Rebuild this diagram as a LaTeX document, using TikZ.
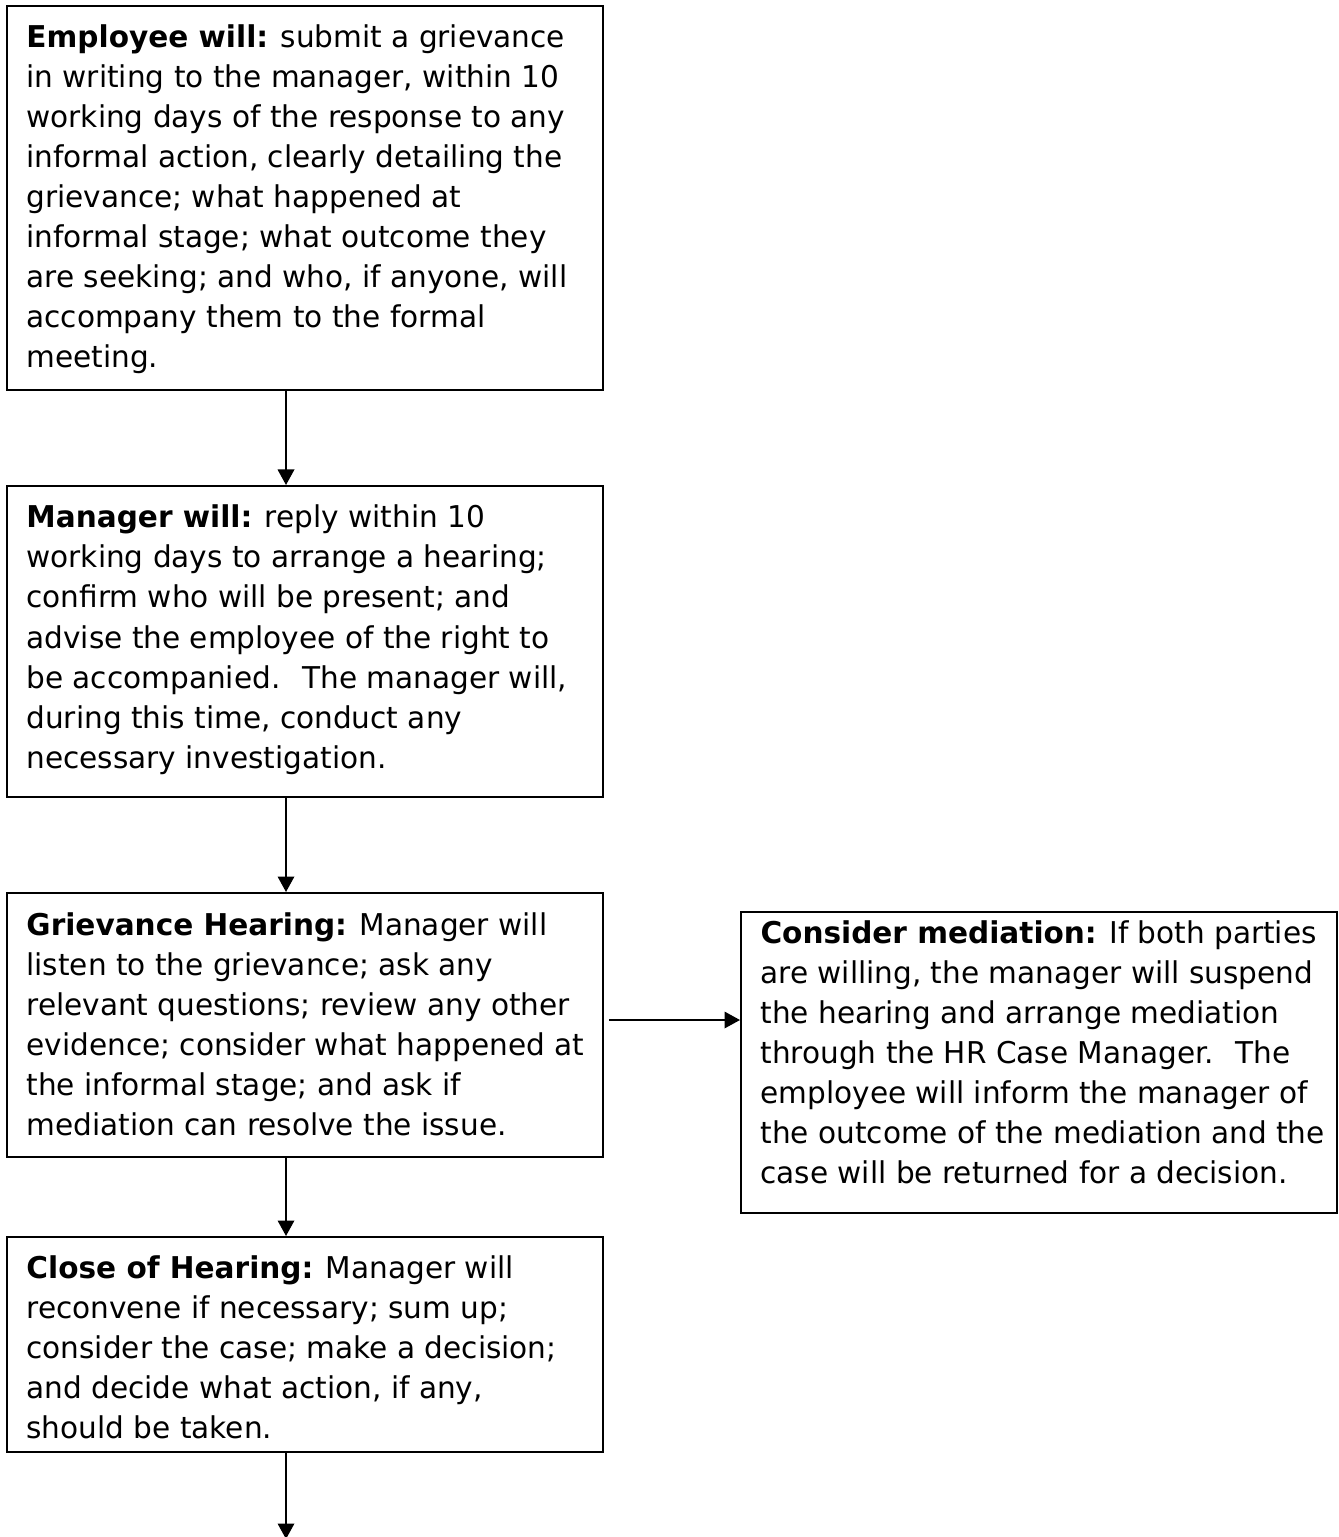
\documentclass[tikz,border=0pt]{standalone}
\usepackage{fontspec}
\setmainfont[FakeStretch=0.985]{DejaVu Sans}
\usetikzlibrary{arrows.meta,calc}

% text block for each step: first baseline sits at the node's base
\newcommand\steptext[1]{\parbox[t]{236pt}{\fontsize{12pt}{16pt}\selectfont\raggedright #1}}

\begin{document}
\begin{tikzpicture}[x=0.4pt,y=-0.4pt,
  stepbox/.style={draw=black, line width=0.8pt, anchor=north west, inner sep=0pt,
    minimum width=238.4pt},
  steplabel/.style={anchor=base west, inner sep=0pt},
  flow/.style={draw=black, line width=0.75pt,
    -{Triangle[width=6.6pt,length=6.2pt]}}
]
\useasboundingbox (0,0) rectangle (1338,1537);
\fill[white] (0,0) rectangle (1338,1537);

% boxes
\node[stepbox, minimum height=153.6pt] (b1) at (6,5) {};
\node[stepbox, minimum height=124.4pt] (b2) at (6,485) {};
\node[stepbox, minimum height=105.6pt] (b3) at (6,892) {};
\node[stepbox, minimum height=86pt]    (b4) at (6,1236) {};
\node[stepbox, minimum height=120.4pt] (b5) at (740,911) {};

% texts
\node[steplabel] (t1) at ($(b1.north west)+(20,43)$) {\steptext{%
\textbf{Employee will:} submit a grievance\\
in writing to the manager, within 10\\
working days of the response to any\\
informal action, clearly detailing the\\
grievance; what happened at\\
informal stage; what outcome they\\
are seeking; and who, if anyone, will\\
accompany them to the formal\\
meeting.}};

\node[steplabel] (t2) at ($(b2.north west)+(20,43)$) {\steptext{%
\textbf{Manager will:} reply within 10\\
working days to arrange a hearing;\\
confirm who will be present; and\\
advise the employee of the right to\\
be accompanied.~ The manager will,\\
during this time, conduct any\\
necessary investigation.}};

\node[steplabel] (t3) at ($(b3.north west)+(20,43)$) {\steptext{%
\textbf{Grievance Hearing:} Manager will\\
listen to the grievance; ask any\\
relevant questions; review any other\\
evidence; consider what happened at\\
the informal stage; and ask if\\
mediation can resolve the issue.}};

\node[steplabel] (t4) at ($(b4.north west)+(20,42)$) {\steptext{%
\textbf{Close of Hearing:} Manager will\\
reconvene if necessary; sum up;\\
consider the case; make a decision;\\
and decide what action, if any,\\
should be taken.}};

\node[steplabel] (t5) at ($(b5.north west)+(20,32)$) {\steptext{%
\textbf{Consider mediation:} If both parties\\
are willing, the manager will suspend\\
the hearing and arrange mediation\\
through the HR Case Manager.~ The\\
employee will inform the manager of\\
the outcome of the mediation and the\\
case will be returned for a decision.}};

% connectors
\draw[flow] ($(b1.south west)+(280,0)$) -- ($(b2.north west)+(280,0)$);
\draw[flow] ($(b2.south west)+(280,0)$) -- ($(b3.north west)+(280,0)$);
\draw[flow] ($(b3.south west)+(280,0)$) -- ($(b4.north west)+(280,0)$);
\draw[flow] ($(b3.north east)+(5,128)$) coordinate (h0) -- (h0 -| b5.west);
\coordinate (next) at ($(b4.south west)+(280,86)$);
\draw[flow] ($(b4.south west)+(280,0)$) -- (next);
\end{tikzpicture}
\end{document}
